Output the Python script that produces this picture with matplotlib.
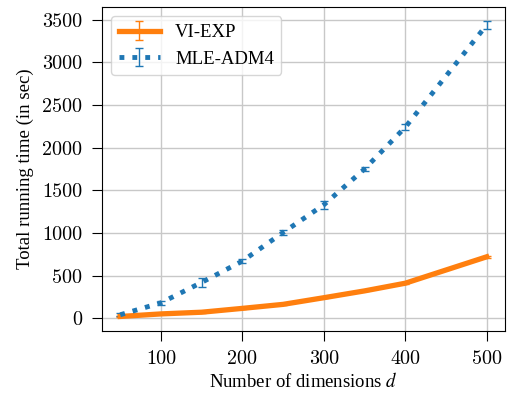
import matplotlib
matplotlib.use("Agg")
import matplotlib.pyplot as plt

plt.rcParams['font.family'] = 'serif'
plt.rcParams['font.serif'] = ['Liberation Serif']
plt.rcParams['mathtext.fontset'] = 'stix'

# dimensions and running times
dims = [50, 100, 150, 200, 250, 300, 350, 400, 500]
vi_exp = [20, 50, 70, 115, 162, 240, 320, 410, 720]
vi_exp_err = [3, 3, 4, 4, 5, 6, 6, 8, 10]
mle_adm4 = [40, 180, 420, 670, 1005, 1330, 1750, 2240, 3440]
mle_adm4_err = [15, 20, 55, 20, 30, 45, 25, 35, 45]

fig = plt.figure(figsize=(5.07, 3.94), dpi=100)
ax = fig.add_axes([0.201, 0.160, 0.795, 0.822])

ax.errorbar(dims, vi_exp, yerr=vi_exp_err, color='tab:orange', lw=3.8,
            capsize=3, elinewidth=1, label='VI-EXP')
ax.errorbar(dims, mle_adm4, yerr=mle_adm4_err, color='tab:blue', lw=3.5,
            ls=':', capsize=3, elinewidth=1, label='MLE-ADM4')

ax.set_xlim(27.5, 522.5)
ax.set_ylim(-150, 3650)
ax.set_xticks([100, 200, 300, 400, 500])
ax.set_yticks(range(0, 3501, 500))
ax.grid(True, color='#c8c8c8', lw=1)
ax.set_axisbelow(True)
ax.tick_params(labelsize=14.5, direction='out', length=7, pad=7)
plt.setp(ax.get_xticklabels() + ax.get_yticklabels(), fontfamily='cmr10')

ax.set_xlabel('Number of dimensions $d$', fontsize=13.5, labelpad=3)
ax.set_ylabel('Total running time (in sec)', fontsize=13.5, labelpad=6)
ax.legend(loc='upper left', fontsize=13.5, handlelength=2.2)

fig.savefig('out.png', dpi=100)
